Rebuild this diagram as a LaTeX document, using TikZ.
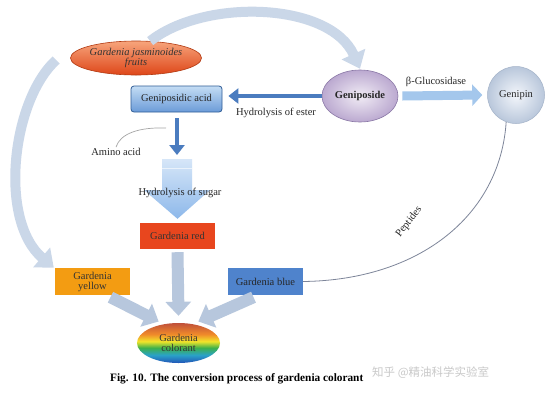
\documentclass[tikz,border=0pt]{standalone}
\usepackage{fontspec}
\setmainfont{Liberation Serif}
\newfontfamily\cjkfont{Noto Sans CJK SC}
\usetikzlibrary{arrows.meta,shapes.geometric,calc}
\definecolor{fruitTop}{HTML}{F7A57C}
\definecolor{fruitBot}{HTML}{DE4619}
\definecolor{fruitLine}{HTML}{B23A12}
\definecolor{gaTop}{HTML}{C4DDF4}
\definecolor{gaBot}{HTML}{6B9BD8}
\definecolor{gaLine}{HTML}{2F5C96}
\definecolor{gpIn}{HTML}{F1ECF5}
\definecolor{gpOut}{HTML}{BBA9D0}
\definecolor{gpLine}{HTML}{8A78A6}
\definecolor{gnIn}{HTML}{F3F6FB}
\definecolor{gnOut}{HTML}{B9C7DB}
\definecolor{gnLine}{HTML}{A3B2C8}
\definecolor{darkArrow}{HTML}{4B7CBF}
\definecolor{betaArrow}{HTML}{A4C7EC}
\definecolor{arcCol}{HTML}{CAD7E8}
\definecolor{toCol}{HTML}{B7C7DD}
\definecolor{redBox}{HTML}{E8461E}
\definecolor{yellowBox}{HTML}{F39C12}
\definecolor{blueBox}{HTML}{4F83CC}
\definecolor{pepLine}{HTML}{7D8599}
\definecolor{sugTop}{HTML}{D6E6F8}
\definecolor{sugBot}{HTML}{8DB8EA}
\definecolor{ctop}{HTML}{C0503A}
\definecolor{corange}{HTML}{F08A2A}
\definecolor{cyellow}{HTML}{F2E52A}
\definecolor{cgreen}{HTML}{3DB04A}
\definecolor{cblue}{HTML}{2AA2C8}
\definecolor{cbot}{HTML}{2255B8}
\definecolor{wmark}{HTML}{C9C9C9}
\pgfdeclareverticalshading{rainbowshade}{100bp}{color(0bp)=(cbot); color(25bp)=(cbot); color(35bp)=(cblue); color(44bp)=(cgreen); color(52bp)=(cyellow); color(61bp)=(corange); color(75bp)=(ctop); color(100bp)=(ctop)}
\begin{document}
\begin{tikzpicture}[x=1pt,y=-1pt,
  lbl/.style={font=\fontsize{10.5}{11.5}\selectfont, text=black!85, inner sep=0pt},
  boxnode/.style={rectangle, minimum width=75pt, minimum height=26pt, inner sep=1pt, align=center, font=\fontsize{10.5}{11}\selectfont, text=black!80},
  bigarc/.style={draw=arcCol, line width=10pt, -{Triangle[width=25pt,length=16pt]}},
  toarrow/.style={draw=toCol, line width=12pt, -{Triangle[width=25pt,length=14pt]}},
  darkarrow/.style={draw=darkArrow, line width=4.5pt, -{Triangle[width=15pt,length=10pt]}},
  thinline/.style={draw=pepLine, line width=0.8pt}
  ]
\useasboundingbox (0,0) rectangle (554,400);
\fill[white] (0,0) rectangle (554,400);

% nodes
\node[ellipse, minimum width=108pt, minimum height=34pt, inner sep=0pt,
      top color=fruitTop, bottom color=fruitBot, draw=fruitLine, line width=0.6pt,
      align=center, font=\fontsize{10.5}{11}\selectfont\itshape, text=black!80]
      (fruits) at (136,58) {Gardenia jasminoides\\[-1pt]fruits};
\node[rectangle, rounded corners=3pt, minimum width=91pt, minimum height=26pt, inner sep=0pt,
      top color=gaTop, bottom color=gaBot, draw=gaLine, line width=0.8pt,
      font=\fontsize{10.5}{11}\selectfont, text=black!85]
      (acid) at (176.5,99) {Geniposidic acid};
\node[ellipse, minimum width=76pt, minimum height=52pt, inner sep=0pt,
      inner color=gpIn, outer color=gpOut, draw=gpLine, line width=0.6pt,
      font=\fontsize{10.5}{11}\selectfont\bfseries, text=black!85]
      (geniposide) at (360,96) {Geniposide};
\node[circle, minimum size=57pt, inner sep=0pt,
      inner color=gnIn, outer color=gnOut, draw=gnLine, line width=0.5pt,
      font=\fontsize{10.5}{11}\selectfont, text=black!85]
      (genipin) at (516,95) {Genipin};
\node[boxnode, fill=redBox] (red) at (177.5,236) {Gardenia red};
\node[boxnode, fill=yellowBox, minimum height=27pt] (yellow) at (92.5,281.5) {Gardenia\\[-1pt]yellow};
\node[boxnode, fill=blueBox, minimum height=27pt, text=black!85] (blue) at (265.5,281.5) {Gardenia blue};
\node[ellipse, minimum width=83pt, minimum height=40pt, inner sep=0pt,
      shade, shading=rainbowshade, align=center,
      font=\fontsize{10.5}{11}\selectfont, text=black!80]
      (colorant) at (178.5,343) {Gardenia\\[-1pt]colorant};

% labels
\node[lbl] (ester) at (276,113) {Hydrolysis of ester};
\node[lbl] (glu) at (436,82) {β-Glucosidase};
\node[lbl] (amino) at (116,152) {Amino acid};
\node[lbl, rotate=52] (pep) at (409,222) {Peptides};

% top and left arcs
\draw[bigarc] (fruits.50) .. controls (205,-2) and (330,2) .. ([yshift=1pt]geniposide.north);
\draw[bigarc] ($(fruits.west)+(-14,2)$) .. controls (12,100) and (-2,220) .. ([xshift=-1pt]yellow.north west);

% ester hydrolysis
\draw[darkarrow] (geniposide.west) -- ([xshift=6pt]geniposide.west -| acid.east);
% beta-glucosidase
\draw[draw=betaArrow, line width=9pt, -{Triangle[width=21pt,length=10pt]}]
  ([xshift=4pt]geniposide.east) -- ([xshift=-5pt]genipin.west);

% down arrow from geniposidic acid
\coordinate (sugartop) at (177,159);
\draw[darkarrow] ([yshift=-6pt]acid.south -| sugartop) -- ([yshift=4pt]sugartop);

% amino acid curve
\coordinate (aminostart) at (166,128);
\draw[draw=gray!70, line width=0.7pt] (aminostart) .. controls (138,127) and (120,134) .. ([yshift=1pt]amino.north);

% big sugar arrow
\coordinate (sugartip) at ([yshift=4pt]red.north);
\path[top color=sugTop, bottom color=sugBot]
  ($(sugartop)+(-15,0)$) -- ($(sugartop)+(15,0)$) -- ($(sugartop)+(15,31)$) --
  ($(sugartop)+(33,31)$) -- (sugartip) -- ($(sugartop)+(-33,31)$) --
  ($(sugartop)+(-15,31)$) -- cycle;
\draw[white, opacity=0.6, line width=0.8pt] ($(sugartop)+(-15,9)$) -- ($(sugartop)+(15,9)$);
\node[lbl] (sugar) at (180,193) {Hydrolysis of sugar};

% arrows to colorant
\draw[toarrow] ([yshift=-3pt]red.south) -- ([yshift=7pt]colorant.north);
\draw[toarrow] ([xshift=18pt,yshift=-2pt]yellow.south) -- ($(colorant.140)+(1,-4)$);
\draw[toarrow] ([xshift=-12pt,yshift=-2pt]blue.south) -- ($(colorant.40)+(-1,-4)$);

% peptides curve
\draw[thinline] (genipin.250) .. controls (500,215) and (420,280) .. (blue.east);

% caption and watermark
\node[anchor=west, inner sep=0pt, font=\fontsize{11.3}{13}\selectfont\bfseries] (caption) at (110,379)
  {Fig. 10. The conversion process of gardenia colorant};
\node[anchor=west, inner sep=0pt, text=wmark, font=\cjkfont\fontsize{11.5}{13}\selectfont] (wm) at (372,373)
  {知乎 @精油科学实验室};
\end{tikzpicture}
\end{document}
